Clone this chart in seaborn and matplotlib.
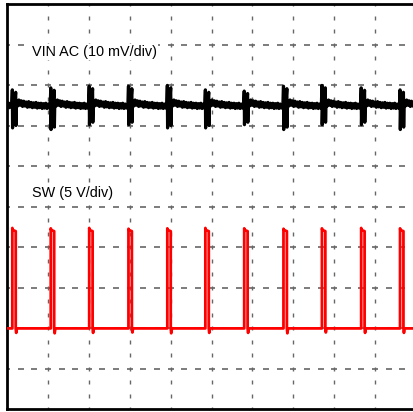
import numpy as np
import pandas as pd
import matplotlib
matplotlib.use("Agg")
import matplotlib.pyplot as plt
import seaborn as sns

# switching edges (in divisions)
edges = [0.13, 1.07, 2.01, 2.97, 3.92, 4.85, 5.80, 6.76, 7.70, 8.66, 9.61]
pulse_width = 0.083

# SW levels (div)
sw_low = 1.99
sw_high = 4.42
sw_peak = [4.47, 4.46, 4.47, 4.45, 4.46, 4.47, 4.46, 4.45, 4.46, 4.47, 4.46]
sw_dip = [1.88, 1.87, 1.88, 1.89, 1.87, 1.88, 1.88, 1.87, 1.89, 1.88, 1.88]

# VIN AC: baseline, spike tops / bottoms for each edge
vin_base = 7.50
vin_top = [7.88, 7.93, 7.97, 7.97, 7.99, 7.88, 7.85, 7.97, 7.99, 7.93, 7.88]
vin_bottom = [6.94, 6.90, 7.02, 7.02, 6.94, 6.94, 7.02, 6.90, 7.02, 7.02, 6.90]
# one period after the spikes (offset from edge, offset from baseline), noisy band
vin_shape_t = [0.10, 0.13, 0.16, 0.19, 0.22, 0.25, 0.28, 0.31, 0.34, 0.37, 0.40,
               0.43, 0.46, 0.49, 0.52, 0.55, 0.58, 0.61, 0.64, 0.67, 0.70, 0.73,
               0.76, 0.79, 0.82, 0.85, 0.88, 0.91]
vin_shape_v = [0.12, -0.02, 0.13, 0.00, 0.11, -0.03, 0.10, -0.02, 0.08, -0.05, 0.09,
               -0.04, 0.07, -0.06, 0.06, -0.05, 0.07, -0.07, 0.05, -0.06, 0.05,
               -0.08, 0.04, -0.07, 0.05, -0.08, 0.03, -0.07]

labels = ["VIN AC (10 mV/div)", "SW (5 V/div)"]

# build traces
sw_t, sw_v = [0.0], [sw_low]
for e, pk, dp in zip(edges, sw_peak, sw_dip):
    sw_t += [e, e, e + 0.01, e + pulse_width, e + pulse_width, e + pulse_width + 0.012, e + pulse_width + 0.03]
    sw_v += [sw_low, pk, sw_high, sw_high - 0.03, sw_low, dp, sw_low]
sw_t.append(10.2)
sw_v.append(sw_low)

vin_t, vin_v = [0.0, 0.03, 0.06, 0.09], [vin_base - 0.05, vin_base + 0.06, vin_base - 0.06, vin_base + 0.04]
for e, tp, bt in zip(edges, vin_top, vin_bottom):
    vin_t += [e - 0.015, e, e + 0.006, e + 0.02, e + 0.04, e + 0.06, e + pulse_width, e + pulse_width + 0.006]
    vin_v += [vin_base - 0.03, tp, bt, vin_base + 0.10, vin_base - 0.06, vin_base + 0.08, tp - 0.06, bt + 0.06]
    for dt, dv in zip(vin_shape_t, vin_shape_v):
        if e + dt < 10.2:
            vin_t.append(e + dt)
            vin_v.append(vin_base + dv)

sw = pd.DataFrame({"t": sw_t, "v": sw_v})
vin = pd.DataFrame({"t": vin_t, "v": vin_v})

sns.set_style("white")
plt.rcParams["font.family"] = ["Liberation Sans", "DejaVu Sans"]

fig = plt.figure(figsize=(4.13, 4.12), dpi=100)
fig.patch.set_edgecolor("none")
ax = fig.add_axes([7 / 413, 3 / 412, 409 / 413, 405 / 412])
ax.patch.set_visible(False)
ax.set_xlim(0, 10)
ax.set_ylim(0, 10)

# scope graticule: dotted lines, marks every 1/3 division
marks = np.arange(0, 31) / 3
for k in range(1, 10):
    ax.plot(np.full_like(marks, k), marks, ls="none", marker="|", ms=3, mew=1.0,
            color="#666666", zorder=1)
    ax.plot(marks, np.full_like(marks, k), ls="none", marker="_", ms=3.8, mew=1.2,
            color="#666666", zorder=1)

sns.lineplot(data=vin, x="t", y="v", ax=ax, color="black", lw=2.3,
             estimator=None, sort=False, zorder=3)
sns.lineplot(data=sw, x="t", y="v", ax=ax, color="#ff0000", lw=2.0,
             estimator=None, sort=False, zorder=3)

for lab, y in zip(labels, [8.81, 5.33]):
    ax.text(0.61, y, lab, fontsize=10.4, va="center", ha="left", color="black", zorder=4,
            bbox=dict(facecolor="white", edgecolor="none", pad=0.5))

for s in ax.spines.values():
    s.set_color("black")
    s.set_linewidth(2)
ax.spines["right"].set_visible(False)
ax.set_xticks([])
ax.set_yticks([])
ax.set_xlabel("")
ax.set_ylabel("")

fig.savefig("out.png", dpi=100, facecolor="white", edgecolor="none")
